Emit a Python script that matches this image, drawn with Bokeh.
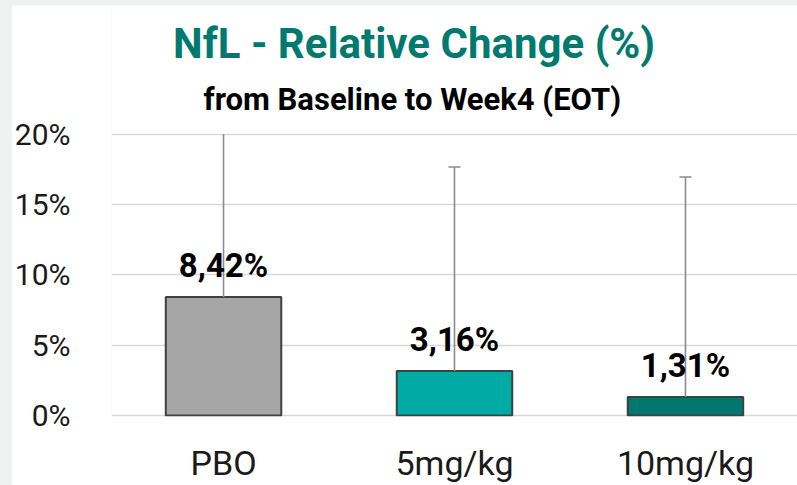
from bokeh.plotting import figure
from bokeh.models import ColumnDataSource, FixedTicker
from bokeh.core.properties import value
from bokeh.embed import file_html
from bokeh.resources import INLINE

categories = ["PBO", "5mg/kg", "10mg/kg"]
values = [8.42, 3.16, 1.31]
upper_err = [21.5, 17.66, 16.95]
value_labels = ["8,42%", "3,16%", "1,31%"]
bar_colors = ["#A6A6A6", "#00ABA5", "#00776F"]
y_ticks = [0, 5, 10, 15, 20]
y_tick_labels = ["0%", "5%", "10%", "15%", "20%"]
axis_max = 20
title_text = "NfL - Relative Change (%)"
subtitle_text = "from Baseline to Week4  (EOT)"

FONT = "Roboto"
xs = list(range(len(categories)))

# error bars are cut at the axis maximum, as in the original chart
shown_upper = [min(u, axis_max) for u in upper_err]
cap_x = [x for x, u in zip(xs, upper_err) if u <= axis_max]
cap_y = [u for u in upper_err if u <= axis_max]

src = ColumnDataSource(dict(
    x=xs, top=values, upper=shown_upper, lab=value_labels, color=bar_colors,
))
cap_src = ColumnDataSource(dict(
    x0=[x - 0.026 for x in cap_x], x1=[x + 0.026 for x in cap_x], y=cap_y,
))

p = figure(width=786, height=480, output_backend="svg", toolbar_location=None,
           x_range=(-0.485, 2.485), y_range=(-0.071, 29.14),
           min_border_left=97, min_border_right=0, min_border_top=0,
           min_border_bottom=68)
p.outline_line_color = None
p.background_fill_color = "white"
p.border_fill_color = "white"

p.xgrid.grid_line_color = None
p.ygrid.grid_line_color = "#D9D9D9"
p.ygrid.grid_line_width = 1.5
p.ygrid.ticker = FixedTicker(ticks=y_ticks)

p.vbar(x="x", top="top", bottom=0, width=0.5, source=src, fill_color="color",
       line_color="#404040", line_width=2)
p.segment(x0="x", y0="top", x1="x", y1="upper", source=src,
          line_color="#8C8C8C", line_width=1.6)
p.segment(x0="x0", y0="y", x1="x1", y1="y", source=cap_src,
          line_color="#8C8C8C", line_width=1.6)
p.text(x="x", y="top", text="lab", source=src, text_align="center",
       text_baseline="alphabetic", y_offset=-32,
       text_font=value(FONT), text_font_style="bold", text_font_size="33px",
       text_color="black")

p.text(x=[0.825], y=[26.43], text=[title_text], text_align="center",
       text_baseline="alphabetic", text_font=value(FONT),
       text_font_style="bold", text_font_size="42px", text_color="#007A6E")
p.text(x=[0.834], y=[22.43], text=[subtitle_text], text_align="center",
       text_baseline="alphabetic", text_font=value(FONT),
       text_font_style="bold", text_font_size="31px", text_color="black")

p.yaxis.ticker = FixedTicker(ticks=y_ticks)
p.yaxis.major_label_overrides = {t: l for t, l in zip(y_ticks, y_tick_labels)}
p.yaxis.axis_line_color = None
p.yaxis.major_tick_line_color = None
p.yaxis.minor_tick_line_color = None
p.yaxis.major_label_standoff = 35
p.yaxis.major_label_text_font = FONT
p.yaxis.major_label_text_font_size = "30px"
p.yaxis.major_label_text_color = "#1a1a1a"

p.xaxis.ticker = FixedTicker(ticks=xs)
p.xaxis.major_label_overrides = {x: c for x, c in zip(xs, categories)}
p.xaxis.axis_line_color = None
p.xaxis.major_tick_line_color = None
p.xaxis.minor_tick_line_color = None
p.xaxis.major_label_standoff = 20
p.xaxis.major_label_text_font = FONT
p.xaxis.major_label_text_font_size = "34px"
p.xaxis.major_label_text_color = "#1a1a1a"

html = file_html(p, INLINE)
style = "<style>html,body{background:#EFF1F0 !important;}body{margin:5px 0 0 11px !important;}</style>"
html = html.replace("</head>", style + "</head>", 1)
open("out.html", "w").write(html)
